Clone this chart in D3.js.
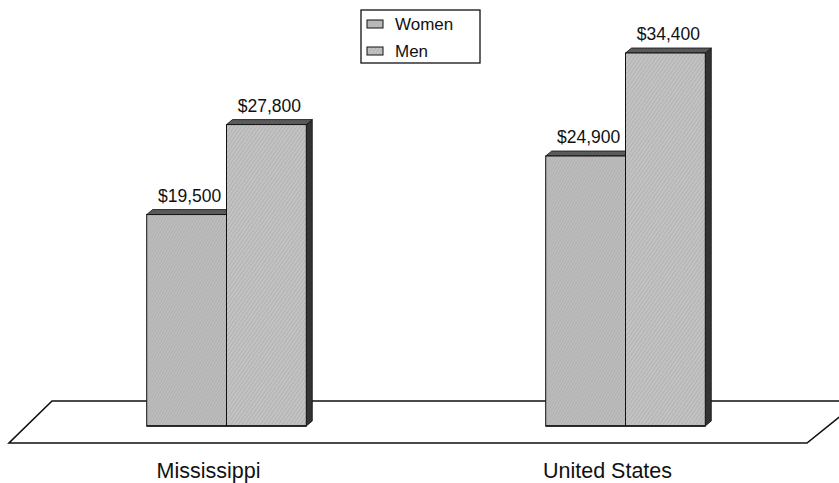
<!DOCTYPE html>
<html>
<head>
<meta charset="utf-8">
<script src="https://cdn.jsdelivr.net/npm/d3@7"></script>
<style>
  html, body { margin: 0; padding: 0; background: #fff; }
  svg { display: block; font-family: Arial, "Liberation Sans", Helvetica, sans-serif; }
</style>
</head>
<body>
<svg id="chart" width="839" height="483"></svg>
<script>
// Median earnings by sex
const categories = ["Mississippi", "United States"];
const seriesNames = ["Women", "Men"];
const women = [19500, 24900];
const men = [27800, 34400];
const valueLabels = [["$19,500", "$27,800"], ["$24,900", "$34,400"]];

const svg = d3.select("#chart");
const W = 839, H = 483;

const baseY = 426;            // floor line where bars stand
const depthX = 6, depthY = 5; // 3D extrusion offsets

const x0 = d3.scaleBand().domain(categories).range([27, 825])
  .paddingInner(0.6).paddingOuter(0.3);
const x1 = d3.scaleBand().domain(seriesNames).range([0, x0.bandwidth()]);
const y = d3.scaleLinear().domain([0, 34400]).range([baseY, 53]);

// Textured fills for the bar faces
const defs = svg.append("defs");
function hatch(id, base, line, angle, gap) {
  const p = defs.append("pattern").attr("id", id)
    .attr("patternUnits", "userSpaceOnUse").attr("width", gap).attr("height", gap)
    .attr("patternTransform", `rotate(${angle})`);
  p.append("rect").attr("width", gap).attr("height", gap).attr("fill", base);
  p.append("line").attr("x1", 0).attr("y1", 0).attr("x2", 0).attr("y2", gap)
    .attr("stroke", line).attr("stroke-width", 1);
  return `url(#${id})`;
}
const fills = {
  Women: hatch("texWomen", "#bcbcbc", "#a6a6a6", 30, 2.5),
  Men: hatch("texMen", "#c3c3c3", "#a2a2a2", 35, 3)
};
const topFill = hatch("texTop", "#5e5e5e", "#4a4a4a", 35, 2.5);
const sideFill = "#333";

// Floor slab
const floorTop = 401, floorBot = 443;
svg.append("path")
  .attr("d", `M52,${floorTop} L${W + 20},${floorTop} L807,${floorBot} L9,${floorBot} Z`)
  .attr("fill", "#fff").attr("stroke", "#111").attr("stroke-width", 1.6);

// Bars
const data = categories.map((c, i) => ({
  cat: c,
  bars: [
    { key: "Women", value: women[i], label: valueLabels[i][0] },
    { key: "Men", value: men[i], label: valueLabels[i][1] }
  ]
}));

const groups = svg.selectAll("g.cat").data(data).join("g")
  .attr("class", "cat")
  .attr("transform", d => `translate(${x0(d.cat)},0)`);

const bar = groups.selectAll("g.bar").data(d => d.bars).join("g").attr("class", "bar");

bar.each(function(d) {
  const g = d3.select(this);
  const xl = x1(d.key), xr = xl + x1.bandwidth();
  const yt = y(d.value);
  // right side face
  g.append("path")
    .attr("d", `M${xr},${yt} L${xr + depthX},${yt - depthY} L${xr + depthX},${baseY - depthY} L${xr},${baseY} Z`)
    .attr("fill", sideFill).attr("stroke", "#111").attr("stroke-width", 0.8);
  // top face
  g.append("path")
    .attr("d", `M${xl},${yt} L${xl + depthX},${yt - depthY} L${xr + depthX},${yt - depthY} L${xr},${yt} Z`)
    .attr("fill", topFill).attr("stroke", "#111").attr("stroke-width", 0.8);
  // front face
  g.append("rect")
    .attr("x", xl).attr("y", yt).attr("width", xr - xl).attr("height", baseY - yt)
    .attr("fill", fills[d.key]).attr("stroke", "#111").attr("stroke-width", 1);
  // bottom edge
  g.append("line")
    .attr("x1", xl).attr("x2", xr).attr("y1", baseY).attr("y2", baseY)
    .attr("stroke", "#111").attr("stroke-width", 1.6);
  // value label
  g.append("text")
    .attr("x", (xl + xr) / 2 + depthX / 2).attr("y", yt - depthY - 8)
    .attr("text-anchor", "middle").attr("font-size", 17.5).attr("fill", "#111")
    .text(d.label);
});

// Category labels
svg.selectAll("text.cat").data(categories).join("text")
  .attr("class", "cat")
  .attr("x", d => x0(d) + x0.bandwidth() / 2 - 18)
  .attr("y", 478)
  .attr("text-anchor", "middle").attr("font-size", 21.5).attr("fill", "#111")
  .text(d => d);

// Legend
const legend = svg.append("g").attr("transform", "translate(361,10)");
legend.append("rect").attr("x", 0).attr("y", 0).attr("width", 119).attr("height", 53)
  .attr("fill", "#fff").attr("stroke", "#111").attr("stroke-width", 1.3);
const items = legend.selectAll("g.item").data(seriesNames).join("g")
  .attr("class", "item")
  .attr("transform", (d, i) => `translate(0,${i * 27})`);
items.append("rect").attr("x", 6).attr("y", 10).attr("width", 16).attr("height", 8)
  .attr("fill", d => fills[d]).attr("stroke", "#111").attr("stroke-width", 1);
items.append("text").attr("x", 34).attr("y", 20)
  .attr("font-size", 17).attr("fill", "#111").text(d => d);
</script>
</body>
</html>
